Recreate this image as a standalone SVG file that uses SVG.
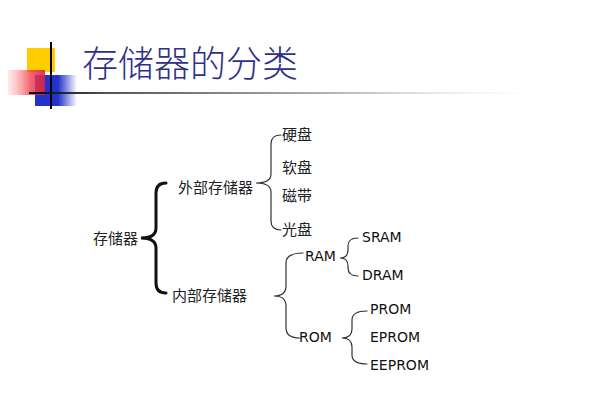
<svg xmlns="http://www.w3.org/2000/svg" width="600" height="400" viewBox="0 0 600 400">
<style>
.cjk{font-family:"Liberation Serif","Noto Sans CJK SC",serif;font-size:15px;fill:#222}
.en{font-family:"DejaVu Sans","Liberation Sans",sans-serif;font-size:14px;fill:#111}
.br{fill:none;stroke:#333;stroke-width:1.2;stroke-linecap:round}
.brb{fill:none;stroke:#111;stroke-width:3;stroke-linecap:round}
.title{font-family:"Noto Sans CJK SC",sans-serif;font-size:36px;font-weight:300;fill:#30308a}
</style>
<defs>
<linearGradient id="gRed" x1="0" y1="0" x2="1" y2="0">
<stop offset="0" stop-color="#ff9999" stop-opacity="0.2"/>
<stop offset="0.6" stop-color="#f04050" stop-opacity="0.8"/>
<stop offset="1" stop-color="#e02040" stop-opacity="0.9"/>
</linearGradient>
<linearGradient id="gBlue" x1="0" y1="0" x2="1" y2="0">
<stop offset="0" stop-color="#2233cc"/>
<stop offset="0.55" stop-color="#2233cc"/>
<stop offset="1" stop-color="#2233cc" stop-opacity="0"/>
</linearGradient>
<linearGradient id="gLine" x1="0" y1="0" x2="1" y2="0">
<stop offset="0" stop-color="#000"/>
<stop offset="0.15" stop-color="#555"/>
<stop offset="0.6" stop-color="#bbb"/>
<stop offset="1" stop-color="#fff" stop-opacity="0"/>
</linearGradient>
</defs>
<rect width="600" height="400" fill="#fff"/>
<g id="logo">
<rect x="27" y="48" width="28" height="24" fill="#ffcc00"/>
<rect x="35" y="75" width="42" height="31" fill="url(#gBlue)"/>
<rect x="8" y="70" width="37" height="25" fill="url(#gRed)"/>
<line x1="51" y1="42" x2="51" y2="109" stroke="#000" stroke-width="2"/>
<rect x="29" y="92" width="531" height="2" fill="url(#gLine)"/>
</g>
<text class="title" x="82" y="77">存储器的分类</text>
<g id="connectors">
<path class="brb" d="M166 183 Q156 183 156 193 L156 228 Q156 238 141 238 Q156 238 156 248 L156 283 Q156 293 166 293"/>
<path class="br" d="M281 135 Q271 135 271 144 L271 174 Q271 183 256 183 Q271 183 271 192 L271 221 Q271 230 281 230"/>
<path class="br" d="M303 253 Q286 253 286 263 L286 286 Q286 296 274 296 Q286 296 286 306 L286 328 Q286 338 300 338"/>
<path class="br" d="M358 238 Q348 238 348 246 L348 250 Q348 258 340 258 Q348 258 348 266 L348 268 Q348 276 358 276"/>
<path class="br" d="M367 311 Q352 311 352 320 L352 329 Q352 338 342 338 Q352 338 352 347 L352 355 Q352 364 367 364"/>
</g>
<g id="n-storage"><text class="cjk" x="93" y="244">存储器</text></g>
<g id="n-external"><text class="cjk" x="178" y="193">外部存储器</text></g>
<g id="n-internal"><text class="cjk" x="172" y="301">内部存储器</text></g>
<g id="n-hdd"><text class="cjk" x="282" y="140">硬盘</text></g>
<g id="n-floppy"><text class="cjk" x="282" y="173">软盘</text></g>
<g id="n-tape"><text class="cjk" x="282" y="201">磁带</text></g>
<g id="n-optical"><text class="cjk" x="282" y="235">光盘</text></g>
<g id="n-ram"><text class="en" x="305" y="261">RAM</text></g>
<g id="n-rom"><text class="en" x="299" y="342">ROM</text></g>
<g id="n-sram"><text class="en" x="362" y="242">SRAM</text></g>
<g id="n-dram"><text class="en" x="362" y="280">DRAM</text></g>
<g id="n-prom"><text class="en" x="370" y="314">PROM</text></g>
<g id="n-eprom"><text class="en" x="370" y="342">EPROM</text></g>
<g id="n-eeprom"><text class="en" x="370" y="370">EEPROM</text></g>
</svg>
